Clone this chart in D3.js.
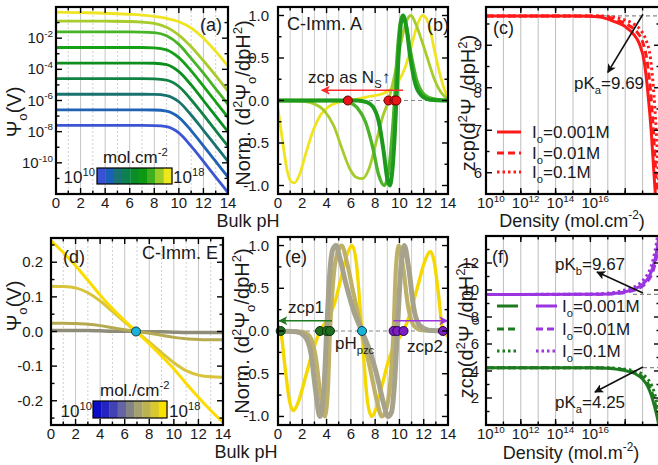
<!DOCTYPE html>
<html>
<head>
<meta charset="utf-8">
<script src="https://cdn.jsdelivr.net/npm/d3@7"></script>
<style>
  body { margin: 0; background: #fff; }
  svg { font-family: "Liberation Sans", Arial, Helvetica, sans-serif; }
</style>
</head>
<body>
<svg width="658" height="465"></svg>
<script>
// ---------- data ----------
// (a) log10(Psi_o / V) vs bulk pH, one row per site density 1e10 .. 1e18 mol/cm2
var pHa = [0, 2, 4, 6, 7, 8, 9, 10, 11, 12, 13, 14];
var logPsiA = [
  [-7.6, -7.6, -7.6, -7.6, -7.6, -7.61, -7.68, -8.08, -8.93, -9.91, -10.91, -11.91],
  [-6.6, -6.6, -6.6, -6.6, -6.6, -6.61, -6.68, -7.08, -7.93, -8.91, -9.91, -10.91],
  [-5.6, -5.6, -5.6, -5.6, -5.6, -5.61, -5.68, -6.08, -6.93, -7.91, -8.91, -9.91],
  [-4.6, -4.6, -4.6, -4.6, -4.6, -4.61, -4.69, -5.1, -5.95, -6.93, -7.93, -8.93],
  [-3.6, -3.6, -3.6, -3.6, -3.6, -3.61, -3.7, -4.15, -5.0, -6.0, -7.0, -8.0],
  [-2.6, -2.6, -2.6, -2.6, -2.6, -2.62, -2.75, -3.25, -4.1, -5.08, -6.08, -7.08],
  [-1.6, -1.6, -1.6, -1.6, -1.61, -1.65, -1.85, -2.4, -3.3, -4.25, -5.25, -6.25],
  [-0.9, -0.9, -0.91, -0.93, -0.97, -1.05, -1.3, -1.8, -2.55, -3.45, -4.4, -5.4],
  [-0.33, -0.36, -0.4, -0.47, -0.52, -0.6, -0.73, -0.95, -1.35, -2.0, -2.85, -3.8]
];

// (b) normalised d2Psi/dpH2, C-Imm. A  [pH, value]
var b15 = [[0,0],[6.5,0],[7.3,-0.02],[7.8,-0.07],[8.3,-0.25],[8.7,-0.6],[9.0,-0.92],[9.2,-1.0],[9.4,-0.85],[9.6,-0.45],[9.75,0],[9.9,0.45],[10.1,0.88],[10.3,1.0],[10.55,0.88],[10.9,0.5],[11.3,0.2],[11.8,0.06],[12.5,0.01],[14,0]];
var b16 = [[0,0],[5,0],[5.8,-0.02],[6.5,-0.08],[7.2,-0.25],[7.8,-0.55],[8.3,-0.88],[8.75,-1.0],[9.1,-0.85],[9.35,-0.5],[9.6,0],[9.8,0.5],[10.05,0.9],[10.25,1.0],[10.55,0.88],[10.95,0.55],[11.4,0.25],[11.9,0.09],[12.5,0.03],[13.2,0.01],[14,0]];
var b17 = [[0,0],[2,-0.01],[3,-0.04],[3.8,-0.12],[4.6,-0.3],[5.3,-0.58],[5.9,-0.8],[6.4,-0.9],[6.95,-0.92],[7.5,-0.8],[8.1,-0.48],[8.6,-0.2],[9.1,0],[9.6,0.3],[10.1,0.66],[10.5,0.9],[10.95,1.0],[11.35,0.9],[11.8,0.72],[12.3,0.5],[12.8,0.28],[13.4,0.1],[14,0.02]];
var b18 = [[0,-0.1],[0.35,-0.45],[0.75,-0.82],[1.05,-0.95],[1.35,-0.97],[1.75,-0.88],[2.3,-0.62],[2.9,-0.35],[3.5,-0.17],[4.2,-0.07],[5,-0.02],[5.75,0],[6.6,0.02],[7.6,0.05],[8.6,0.08],[9.3,0.13],[9.9,0.22],[10.5,0.4],[11.0,0.65],[11.5,0.9],[11.9,1.0],[12.2,0.97],[12.5,0.85],[12.9,0.58],[13.3,0.33],[13.7,0.13],[14,0.04]];
var zcpB = [5.75, 9.1, 9.6, 9.75];

// (c) zcp vs site density (log10 mol/cm2), C-Imm. A
var cSolid  = [[10,9.69],[15,9.69],[16,9.68],[16.7,9.65],[17.3,9.57],[18,9.44],[18.5,9.25],[18.8,9.05],[19.1,8.6],[19.3,7.9],[19.5,6.95],[19.65,6.0],[19.75,5.4]];
var cDashed = [[10,9.69],[16,9.69],[17,9.66],[17.6,9.58],[18.2,9.47],[18.7,9.3],[19.0,9.08],[19.25,8.65],[19.45,7.95],[19.62,7.0],[19.76,6.0],[19.86,5.4]];
var cDotted = [[10,9.69],[16.4,9.69],[17.2,9.67],[17.8,9.62],[18.4,9.52],[18.9,9.35],[19.2,9.12],[19.45,8.7],[19.62,8.0],[19.78,7.0],[19.9,6.0],[19.98,5.4]];
var pKaC = 9.69;

// (d) Psi_o (V) vs pH, C-Imm. E, densities 1e15 .. 1e18
var pHd = [0, 1, 2, 3, 4, 5, 6, 7, 8, 9, 10, 11, 12, 13, 14];
var d15 = [0.003, 0.003, 0.003, 0.003, 0.002, 0.001, 0.001, 0, -0.001, -0.001, -0.002, -0.003, -0.003, -0.003, -0.003];
var d16 = [0.024, 0.024, 0.023, 0.021, 0.017, 0.011, 0.005, 0, -0.005, -0.011, -0.017, -0.021, -0.023, -0.024, -0.024];
var d17 = [0.131, 0.13, 0.126, 0.112, 0.088, 0.058, 0.027, -0.002, -0.031, -0.061, -0.09, -0.113, -0.126, -0.131, -0.132];
var d18 = [0.262, 0.228, 0.19, 0.148, 0.105, 0.066, 0.031, -0.002, -0.036, -0.071, -0.108, -0.15, -0.19, -0.228, -0.262];
var pzc = 6.92;

// (e) normalised d2Psi/dpH2, C-Imm. E
var eG = [[0,0],[1.5,-0.01],[2.2,-0.06],[2.7,-0.25],[3.1,-0.7],[3.45,-1.0],[3.75,-0.75],[4.01,0],[4.25,0.65],[4.5,0.95],[4.78,1.0],[5.1,0.85],[5.6,0.55],[6.2,0.25],[6.9,0],[7.6,-0.25],[8.2,-0.55],[8.7,-0.85],[9.05,-1.0],[9.35,-0.95],[9.6,-0.6],[9.83,0],[10.1,0.7],[10.4,1.0],[10.75,0.75],[11.2,0.25],[11.7,0.06],[12.4,0.01],[14,0]];
var eO = [[0,0],[2,-0.01],[2.6,-0.06],[3.1,-0.3],[3.5,-0.75],[3.85,-1.0],[4.1,-0.7],[4.28,0],[4.55,0.6],[4.9,0.92],[5.25,1.0],[5.65,0.82],[6.2,0.45],[6.9,0],[7.6,-0.45],[8.15,-0.82],[8.55,-1.0],[8.9,-0.92],[9.25,-0.6],[9.52,0],[9.7,0.7],[9.95,1.0],[10.3,0.75],[10.7,0.3],[11.2,0.06],[11.8,0.01],[14,0]];
var eY = [[0,0.06],[0.22,0],[0.6,-0.45],[0.95,-0.82],[1.26,-0.93],[1.7,-0.82],[2.3,-0.52],[2.9,-0.22],[3.46,0],[4.0,0.12],[4.6,0.3],[5.2,0.62],[5.7,0.9],[6.1,1.0],[6.45,0.8],[6.9,0],[7.35,-0.8],[7.7,-1.0],[8.1,-0.9],[8.6,-0.62],[9.2,-0.3],[9.8,-0.12],[10.34,0],[10.9,0.22],[11.5,0.52],[12.1,0.82],[12.54,0.93],[12.85,0.82],[13.2,0.45],[13.58,0],[14,-0.06]];
var zcp1E = [0.22, 3.46, 4.01, 4.28];
var zcp2E = [9.52, 9.83, 10.34, 13.58];

// (f) zcp vs site density (log10 mol/m2), C-Imm. E
var fbSolid  = [[10,9.67],[16,9.68],[17,9.71],[17.6,9.78],[18.1,9.9],[18.6,10.12],[19,10.42],[19.3,10.85],[19.5,11.35],[19.7,12.2],[19.85,13.2],[19.95,14.2]];
var fbDashed = [[10,9.67],[16,9.68],[17,9.7],[17.7,9.76],[18.2,9.88],[18.7,10.08],[19.1,10.4],[19.4,10.85],[19.6,11.4],[19.78,12.3],[19.92,13.4],[20,14.2]];
var fbDotted = [[10,9.67],[15.8,9.69],[16.7,9.74],[17.4,9.84],[18,10.0],[18.5,10.22],[18.9,10.55],[19.2,11.0],[19.45,11.6],[19.65,12.5],[19.8,13.5],[19.88,14.2]];
var faSolid  = [[10,4.25],[16,4.24],[17,4.2],[17.6,4.12],[18.1,4.0],[18.6,3.78],[19,3.4],[19.3,2.85],[19.5,2.2],[19.7,1.3],[19.85,0.5],[19.95,-0.2]];
var faDashed = [[10,4.25],[16.2,4.24],[17.2,4.2],[17.8,4.12],[18.3,3.98],[18.8,3.74],[19.15,3.35],[19.42,2.8],[19.6,2.15],[19.78,1.25],[19.92,0.4],[20,-0.1]];
var faDotted = [[10,4.25],[16.5,4.24],[17.4,4.21],[18,4.13],[18.5,4.0],[19,3.75],[19.3,3.4],[19.55,2.85],[19.72,2.2],[19.87,1.3],[19.98,0.5]];
var pKbF = 9.67, pKaF = 4.25;

// tick values
var pHMajor = [0, 2, 4, 6, 8, 10, 12, 14];
var pHMinor = [1, 3, 5, 7, 9, 11, 13];
var expA = [-10, -8, -6, -4, -2];
var normTicks = [-1.0, -0.5, 0.0, 0.5, 1.0];
var psiTicksD = [-0.2, -0.1, 0.0, 0.1, 0.2];
var zcpTicksC = [6, 7, 8, 9];
var zcpTicksF = [2, 4, 6, 8, 10, 12];
var densLabels = [10, 12, 14, 16];
var ionic = ["0.001M", "0.01M", "0.1M"];

// colours
var colA = ["#3b55d4", "#1f62b6", "#18736f", "#0f8244", "#0c8f1e", "#16a018", "#46b426", "#a8cc2c", "#efe421"];
var barA = ["#3a50d6", "#1a5fb8", "#1a7276", "#0e7f50", "#0a8c28", "#0d9a10", "#3cb020", "#9ccc28", "#f0e61e"];
var barD = ["#0c0cc8", "#2424c0", "#4242b4", "#6464a6", "#848484", "#a4a070", "#bcb250", "#d8c830", "#f8e000"];

// ---------- helpers ----------
var svg = d3.select("svg");
var defs = svg.append("defs");
var TICK = 15;

function rich(sel, parts, fs) {
  var cur = 0;
  parts.forEach(function (p) {
    var off = p[1] === "sup" ? -0.42 * fs : p[1] === "sub" ? 0.3 * fs : 0;
    sel.append("tspan")
      .attr("dy", off - cur)
      .attr("font-size", p[1] === "n" ? fs : fs * 0.66)
      .text(p[0]);
    cur = off;
  });
  return sel;
}

function label(x, y, parts, fs, anchor, rot) {
  var t = svg.append("text")
    .attr("font-size", fs)
    .attr("fill", "#1a1a1a")
    .attr("text-anchor", anchor || "start");
  if (rot) t.attr("transform", "translate(" + x + "," + y + ") rotate(-90)");
  else t.attr("x", x).attr("y", y);
  if (typeof parts === "string") t.text(parts);
  else rich(t, parts, fs);
  return t;
}

function panel(id, xs, ys) {
  var xr = xs.range(), yr = ys.range();
  var p = { x0: xr[0], x1: xr[1], y0: yr[1], y1: yr[0], xs: xs, ys: ys };
  defs.append("clipPath").attr("id", id).append("rect")
    .attr("x", p.x0).attr("y", p.y0)
    .attr("width", p.x1 - p.x0).attr("height", p.y1 - p.y0);
  var g = svg.append("g");
  p.grid = g.append("g").attr("clip-path", "url(#" + id + ")");
  p.plot = g.append("g").attr("clip-path", "url(#" + id + ")");
  p.axes = g.append("g");
  return p;
}

function vgrid(p, vals, color, dash) {
  vals.forEach(function (v) {
    p.grid.append("line")
      .attr("x1", p.xs(v)).attr("x2", p.xs(v))
      .attr("y1", p.y0).attr("y2", p.y1)
      .attr("stroke", color).attr("stroke-width", 1)
      .attr("stroke-dasharray", dash || null);
  });
}

function hdash(p, v, from) {
  p.grid.append("line")
    .attr("x1", from === undefined ? p.x0 : from).attr("x2", p.x1)
    .attr("y1", p.ys(v)).attr("y2", p.ys(v))
    .attr("stroke", "#888").attr("stroke-width", 1.2)
    .attr("stroke-dasharray", "4,3");
}

function frame(p, xMaj, xMin, yMaj, yMin) {
  var a = p.axes;
  function seg(x1, y1, x2, y2) {
    a.append("line").attr("x1", x1).attr("y1", y1).attr("x2", x2).attr("y2", y2)
      .attr("stroke", "#000").attr("stroke-width", 1.4);
  }
  xMaj.forEach(function (v) { var x = p.xs(v); seg(x, p.y1, x, p.y1 - 6); seg(x, p.y0, x, p.y0 + 6); });
  xMin.forEach(function (v) { var x = p.xs(v); seg(x, p.y1, x, p.y1 - 3.5); seg(x, p.y0, x, p.y0 + 3.5); });
  yMaj.forEach(function (v) { var y = p.ys(v); seg(p.x0, y, p.x0 + 6, y); seg(p.x1, y, p.x1 - 6, y); });
  yMin.forEach(function (v) { var y = p.ys(v); seg(p.x0, y, p.x0 + 3.5, y); seg(p.x1, y, p.x1 - 3.5, y); });
  a.append("rect")
    .attr("x", p.x0).attr("y", p.y0)
    .attr("width", p.x1 - p.x0).attr("height", p.y1 - p.y0)
    .attr("fill", "none").attr("stroke", "#000").attr("stroke-width", 2.2);
}

function curve(p, pts, color, w, dash) {
  var line = d3.line()
    .x(function (d) { return p.xs(d[0]); })
    .y(function (d) { return p.ys(d[1]); })
    .curve(d3.curveMonotoneX);
  p.plot.append("path").datum(pts)
    .attr("d", line)
    .attr("fill", "none")
    .attr("stroke", color).attr("stroke-width", w)
    .attr("stroke-dasharray", dash || null)
    .attr("stroke-linejoin", "round");
}

function dots(p, xsVals, fill, stroke) {
  p.axes.selectAll(null).data(xsVals).enter().append("circle")
    .attr("cx", function (d) { return p.xs(d); })
    .attr("cy", p.ys(0))
    .attr("r", 4.5)
    .attr("fill", fill).attr("stroke", stroke).attr("stroke-width", 1);
}

function marker(id, color) {
  defs.append("marker").attr("id", id)
    .attr("viewBox", "0 0 10 10").attr("refX", 9).attr("refY", 5)
    .attr("markerWidth", 11).attr("markerHeight", 9)
    .attr("markerUnits", "userSpaceOnUse").attr("orient", "auto")
    .append("path").attr("d", "M0,0 L10,5 L0,10 L2.5,5 z").attr("fill", color);
}

function arrow(p, a, b, color, id, w) {
  p.axes.append("line")
    .attr("x1", p.xs(a[0])).attr("y1", p.ys(a[1]))
    .attr("x2", p.xs(b[0])).attr("y2", p.ys(b[1]))
    .attr("stroke", color).attr("stroke-width", w || 1.6)
    .attr("marker-end", "url(#" + id + ")");
}

function colorbar(x, y, w, h, cols) {
  var cw = w / cols.length;
  cols.forEach(function (c, i) {
    svg.append("rect").attr("x", x + i * cw).attr("y", y)
      .attr("width", cw + 0.3).attr("height", h).attr("fill", c);
  });
  svg.append("rect").attr("x", x).attr("y", y).attr("width", w).attr("height", h)
    .attr("fill", "none").attr("stroke", "#000").attr("stroke-width", 1.2);
}

function xTickLabels(p, vals, y) {
  vals.forEach(function (v) {
    label(p.xs(v), y, String(v), TICK, "middle");
  });
}

function yTickLabels(p, vals, gap, fmt) {
  vals.forEach(function (v) {
    label(p.x0 - gap, p.ys(v) + 5, fmt(v), TICK, "end");
  });
}

marker("ar-black", "#111");
marker("ar-red", "#ff2a2a");
marker("ar-green", "#1e7a1e");
marker("ar-purple", "#9a35e0");

var psiLabel = [["Ψ", "n"], ["o", "sub"], ["(V)", "n"]];
var normLabel = [["Norm. (d", "n"], ["2", "sup"], ["Ψ", "n"], ["o", "sub"], ["/dpH", "n"], ["2", "sup"], [")", "n"]];
var zcpLabel = [["zcp(d", "n"], ["2", "sup"], ["Ψ", "n"], ["o", "sub"], ["/dpH", "n"], ["2", "sup"], [")", "n"]];
var fmt1 = function (v) { return v.toFixed(1); };

// ---------- (a) ----------
var pa = panel("ca", d3.scaleLinear().domain([0, 14]).range([56, 228]),
  d3.scaleLog().domain([1e-12, 1]).range([194, 7]));
vgrid(pa, [2, 4, 6, 8, 10, 12], "#c4c4c4");
vgrid(pa, pHMinor, "#cfcfcf", "2,2");
logPsiA.forEach(function (row, k) {
  curve(pa, pHa.map(function (x, i) { return [x, Math.pow(10, row[i])]; }), colA[k], 2.8);
});
frame(pa, pHMajor, pHMinor,
  [1e-12, 1e-10, 1e-8, 1e-6, 1e-4, 1e-2, 1],
  [1e-11, 1e-9, 1e-7, 1e-5, 1e-3, 1e-1]);
xTickLabels(pa, pHMajor, 208);
expA.forEach(function (e) {
  label(pa.x0 - 3, pa.ys(Math.pow(10, e)) + 5, [["10", "n"], [String(e), "sup"]], TICK, "end");
});
label(21, 112, psiLabel, 20, "middle", true);
label(200, 31, "(a)", 18);
colorbar(97, 168, 75, 16, barA);
label(103, 163, [["mol.cm", "n"], ["-2", "sup"]], 17);
label(95, 183, [["10", "n"], ["10", "sup"]], 17, "end");
label(173, 183, [["10", "n"], ["18", "sup"]], 17);
label(248, 227, "Bulk pH", 18, "middle");

// ---------- (b) ----------
var pb = panel("cb", d3.scaleLinear().domain([0, 14]).range([278, 448]),
  d3.scaleLinear().domain([-1.1, 1.1]).range([194, 7]));
vgrid(pb, d3.range(1, 14), "#cdcdcd");
hdash(pb, 0);
curve(pb, b18, "#f0e41e", 2.8);
curve(pb, b17, "#a6cc2c", 2.8);
curve(pb, b16, "#4db32a", 3.4);
curve(pb, b15, "#1d991d", 4);
arrow(pb, [10.3, 0.12], [3.6, 0.12], "#ff2a2a", "ar-red", 1.6);
dots(pb, zcpB, "#e8141a", "#6a0000");
frame(pb, pHMajor, pHMinor, normTicks, [-0.75, -0.25, 0.25, 0.75]);
xTickLabels(pb, pHMajor, 208);
yTickLabels(pb, normTicks, 9, fmt1);
label(250, 103, normLabel, 20, "middle", true);
label(287, 30, "C-Imm. A", 18);
label(427, 31, "(b)", 18);
label(308, 83, [["zcp as N", "n"], ["S", "sub"], ["↑", "n"]], 17);

// ---------- (c) ----------
var pc = panel("cc", d3.scaleLog().domain([1e10, 1e20]).range([486, 660]),
  d3.scaleLinear().domain([5.5, 9.9]).range([194, 7]));
var decades = [11, 12, 13, 14, 15, 16, 17, 18, 19].map(function (e) { return Math.pow(10, e); });
vgrid(pc, decades, "#bdbdbd");
hdash(pc, pKaC, 590);
function toDens(arr) { return arr.map(function (d) { return [Math.pow(10, d[0]), d[1]]; }); }
curve(pc, toDens(cDotted), "#ff1a1a", 3, "2.5,3");
curve(pc, toDens(cDashed), "#ff1a1a", 3, "7,4");
curve(pc, toDens(cSolid), "#ff1a1a", 3);
arrow(pc, [Math.pow(10, 19.02), 9.73], [Math.pow(10, 17.0), 8.36], "#111", "ar-black", 1.6);
frame(pc, [1e10, 1e12, 1e14, 1e16, 1e18, 1e20], decades, zcpTicksC, [5.5, 6.5, 7.5, 8.5, 9.5]);
densLabels.forEach(function (e) {
  label(pc.xs(Math.pow(10, e)) - 9, 208, [["10", "n"], [String(e), "sup"]], TICK);
});
yTickLabels(pc, zcpTicksC, 4, String);
label(475, 103, zcpLabel, 20, "middle", true);
label(493, 34, "(c)", 18);
label(574, 89, [["pK", "n"], ["a", "sub"], ["=9.69", "n"]], 17);
[null, "7,4", "2.5,3"].forEach(function (dash, i) {
  var y = [132, 153, 172][i];
  svg.append("line").attr("x1", 497).attr("x2", 521).attr("y1", y).attr("y2", y)
    .attr("stroke", "#ff1a1a").attr("stroke-width", 3).attr("stroke-dasharray", dash);
  label(532, y + 6, [["I", "n"], ["o", "sub"], ["=" + ionic[i], "n"]], 17);
});
label(572, 227, [["Density (mol.cm", "n"], ["-2", "sup"], [")", "n"]], 18, "middle");

// ---------- (d) ----------
var pd = panel("cd", d3.scaleLinear().domain([0, 14]).range([51, 223]),
  d3.scaleLinear().domain([-0.27, 0.27]).range([425, 238]));
vgrid(pd, [2, 4, 6, 8, 10, 12], "#c4c4c4");
vgrid(pd, pHMinor, "#cfcfcf", "2,2");
function zipD(vals) { return pHd.map(function (x, i) { return [x, vals[i]]; }); }
curve(pd, zipD(d15), "#8e8c78", 3.5);
curve(pd, zipD(d16), "#b5aa50", 3);
curve(pd, zipD(d17), "#d7c43a", 3);
curve(pd, zipD(d18), "#fcdc00", 3);
dots(pd, [pzc], "#19b3d6", "#0a3a50");
frame(pd, pHMajor, pHMinor, psiTicksD, [-0.25, -0.15, -0.05, 0.05, 0.15, 0.25]);
xTickLabels(pd, pHMajor, 439);
yTickLabels(pd, psiTicksD, 8, fmt1);
label(21, 306, psiLabel, 20, "middle", true);
label(63, 263, "(d)", 18);
label(142, 259, "C-Imm. E", 18);
colorbar(93, 401, 74, 17, barD);
label(100, 396, [["mol./cm", "n"], ["-2", "sup"]], 17);
label(92, 417, [["10", "n"], ["10", "sup"]], 17, "end");
label(169, 417, [["10", "n"], ["18", "sup"]], 17);
label(246, 458, "Bulk pH", 18, "middle");

// ---------- (e) ----------
var pe = panel("ce", d3.scaleLinear().domain([0, 14]).range([278, 448]),
  d3.scaleLinear().domain([-1.1, 1.1]).range([425, 237]));
vgrid(pe, d3.range(1, 14), "#cdcdcd");
hdash(pe, 0);
curve(pe, eY, "#f5d800", 3.4);
curve(pe, eO, "#bdb16a", 4.2);
curve(pe, eG, "#a6a28b", 5);
arrow(pe, [4.45, 0.12], [0.1, 0.12], "#1e7a1e", "ar-green", 1.6);
arrow(pe, [9.5, 0.12], [13.95, 0.12], "#9a35e0", "ar-purple", 1.6);
dots(pe, zcp1E, "#1e6e1e", "#0a300a");
dots(pe, [pzc], "#19b3d6", "#0a3a50");
dots(pe, zcp2E, "#7a1fc0", "#2a0050");
frame(pe, pHMajor, pHMinor, normTicks, [-0.75, -0.25, 0.25, 0.75]);
xTickLabels(pe, pHMajor, 439);
yTickLabels(pe, normTicks, 9, fmt1);
label(249, 331, normLabel, 20, "middle", true);
label(285, 263, "(e)", 18);
label(288, 313, "zcp1", 17);
label(335, 349, [["pH", "n"], ["pzc", "sub"]], 17);
label(407, 352, "zcp2", 17);

// ---------- (f) ----------
var pf = panel("cf", d3.scaleLog().domain([1e10, 1e20]).range([486, 660]),
  d3.scaleLinear().domain([0, 14]).range([425, 236]));
vgrid(pf, decades, "#bdbdbd");
hdash(pf, pKbF, 633);
hdash(pf, pKaF, 643);
curve(pf, toDens(fbDotted), "#9a35e0", 3, "2.5,3");
curve(pf, toDens(fbDashed), "#9a35e0", 3, "7,4");
curve(pf, toDens(fbSolid), "#9a35e0", 3);
curve(pf, toDens(faDotted), "#1e7a1e", 3, "2.5,3");
curve(pf, toDens(faDashed), "#1e7a1e", 3, "7,4");
curve(pf, toDens(faSolid), "#1e7a1e", 3);
arrow(pf, [Math.pow(10, 19.02), 9.78], [Math.pow(10, 16.38), 11.33], "#111", "ar-black", 1.6);
arrow(pf, [Math.pow(10, 19.02), 4.3], [Math.pow(10, 16.26), 2.44], "#111", "ar-black", 1.6);
frame(pf, [1e10, 1e12, 1e14, 1e16, 1e18, 1e20], decades, zcpTicksF, [1, 3, 5, 7, 9, 11, 13]);
densLabels.forEach(function (e) {
  label(pf.xs(Math.pow(10, e)) - 9, 439, [["10", "n"], [String(e), "sup"]], TICK);
});
yTickLabels(pf, zcpTicksF, 7, String);
label(473, 330, zcpLabel, 20, "middle", true);
label(492, 263, "(f)", 18);
label(555, 270, [["pK", "n"], ["b", "sub"], ["=9.67", "n"]], 17);
label(555, 408, [["pK", "n"], ["a", "sub"], ["=4.25", "n"]], 17);
[null, "7,4", "2.5,3"].forEach(function (dash, i) {
  var y = [306, 329, 351][i];
  svg.append("line").attr("x1", 497).attr("x2", 518).attr("y1", y).attr("y2", y)
    .attr("stroke", "#1e7a1e").attr("stroke-width", 3).attr("stroke-dasharray", dash);
  svg.append("line").attr("x1", 536).attr("x2", 557).attr("y1", y).attr("y2", y)
    .attr("stroke", "#9a35e0").attr("stroke-width", 3).attr("stroke-dasharray", dash);
  label(562, y + 6, [["I", "n"], ["o", "sub"], ["=" + ionic[i], "n"]], 17);
});
label(571, 459, [["Density (mol.m", "n"], ["-2", "sup"], [")", "n"]], 18, "middle");
</script>
</body>
</html>
